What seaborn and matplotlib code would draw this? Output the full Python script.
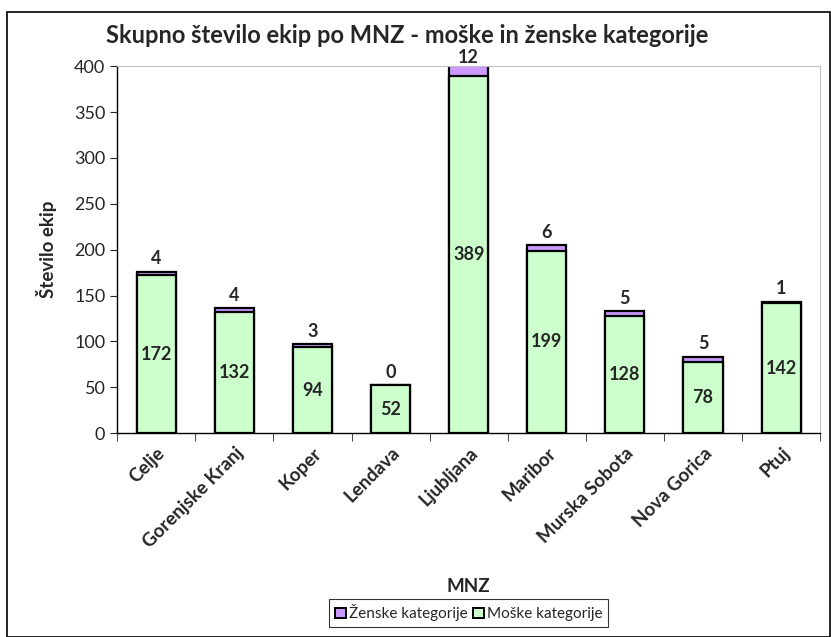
import matplotlib
matplotlib.use('Agg')
import matplotlib.pyplot as plt
import seaborn as sns
import pandas as pd
from matplotlib.patches import Rectangle

categories = ['Celje', 'Gorenjske Kranj', 'Koper', 'Lendava', 'Ljubljana',
              'Maribor', 'Murska Sobota', 'Nova Gorica', 'Ptuj']
moske = [172, 132, 94, 52, 389, 199, 128, 78, 142]
zenske = [4, 4, 3, 0, 12, 6, 5, 5, 1]

green = '#CCFFCC'
purple = '#CC99FF'

df = pd.DataFrame({'MNZ': categories, 'moske': moske, 'zenske': zenske})
df['skupaj'] = df['moske'] + df['zenske']

sns.set_style('white')
plt.rcParams['font.family'] = ['Lato', 'DejaVu Sans']

fig = plt.figure(figsize=(8.31, 6.37), dpi=100)
ax = fig.add_axes([0.141, 0.32, 0.846, 0.576])

# stacked: total in purple, men on top of it in green
sns.barplot(data=df, x='MNZ', y='skupaj', color=purple, width=0.5,
            edgecolor='black', linewidth=1.6, ax=ax, saturation=1)
sns.barplot(data=df, x='MNZ', y='moske', color=green, width=0.5,
            edgecolor='black', linewidth=1.6, ax=ax, saturation=1)

ax.set_ylim(0, 400)
ax.set_xlim(-0.5, len(categories) - 0.5)
ax.set_yticks(range(0, 401, 50))
ax.tick_params(axis='y', labelsize=13, length=5, direction='out', left=True)
ax.set_xticks([i - 0.5 for i in range(len(categories) + 1)], minor=True)
ax.tick_params(axis='x', which='major', length=0, labelsize=13.5, pad=8)
ax.tick_params(axis='x', which='minor', length=6, direction='out', bottom=True)
ax.set_xticks(range(len(categories)))
ax.set_xticklabels(categories, rotation=45, ha='right', rotation_mode='anchor',
                   fontweight='bold')

for s in ['top', 'right']:
    ax.spines[s].set_color('#c0c0c0')
    ax.spines[s].set_linewidth(0.8)
for s in ['left', 'bottom']:
    ax.spines[s].set_color('black')
    ax.spines[s].set_linewidth(1.0)

for i, row in df.iterrows():
    ax.text(i, row['moske'] / 2, str(row['moske']), ha='center', va='center',
            fontsize=13, fontweight='bold')
    top = row['skupaj']
    off = 5 if top < 395 else 0.5
    ax.text(i, min(top, 400) + off, str(row['zenske']), ha='center',
            va='bottom', fontsize=13, fontweight='bold', clip_on=False)

ax.set_ylabel('Število ekip', fontsize=13.5, fontweight='bold', labelpad=12)
ax.set_xlabel('')
fig.text(0.564, 0.079, 'MNZ', ha='center', va='center', fontsize=13.5,
         fontweight='bold')
fig.suptitle('Skupno število ekip po MNZ - moške in ženske kategorije',
             x=0.49, y=0.944, va='center', fontsize=17, fontweight='bold')

handles = [Rectangle((0, 0), 1, 1, facecolor=purple, edgecolor='black', linewidth=1.4),
           Rectangle((0, 0), 1, 1, facecolor=green, edgecolor='black', linewidth=1.4)]
leg = fig.legend(handles, ['Ženske kategorije', 'Moške kategorije'], ncol=2,
                 loc='center', bbox_to_anchor=(0.564, 0.038), fontsize=11,
                 frameon=True, fancybox=False, handlelength=0.7,
                 handleheight=0.7, handletextpad=0.2, columnspacing=0.4,
                 borderpad=0.35, borderaxespad=0)
leg.get_frame().set_edgecolor('black')
leg.get_frame().set_linewidth(0.8)

fig.patches.append(Rectangle((0.009, 0.0), 0.99, 0.981, transform=fig.transFigure,
                             fill=False, edgecolor='black', linewidth=1.2))

fig.savefig('out.png', dpi=100)
